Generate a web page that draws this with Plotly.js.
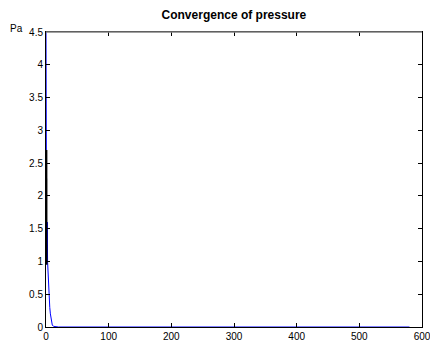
<!DOCTYPE html>
<html><head><meta charset="utf-8">
<script src="https://cdn.plot.ly/plotly-3.0.1.min.js"></script>
<style>body{margin:0;background:#fff}#c{width:430px;height:345px}</style>
</head><body><div id="c"></div>
<script>
const blueX = [0, 1, 2, 2.5, 3, 4, 5, 6, 7, 8, 9, 10, 12, 20, 580];
const blueY = [4.5, 1.0, 1.6, 1.0, 0.85, 0.6, 0.45, 0.3, 0.2, 0.12, 0.06, 0.03, 0.01, 0, 0];
const blackX = [1, 1.2];
const blackY = [2.7, 0.95];
const xTicks = [0, 100, 200, 300, 400, 500, 600];
const yTicks = [0, 0.5, 1, 1.5, 2, 2.5, 3, 3.5, 4, 4.5];

const traces = [
  {x: blueX, y: blueY, mode: 'lines', line: {color: '#0000ff', width: 1}, hoverinfo: 'none'},
  {x: blackX, y: blackY, mode: 'lines', line: {color: '#000000', width: 1.5}, hoverinfo: 'none'}
];
const axFont = {family: 'Liberation Sans, Arial, sans-serif', size: 10, color: '#000'};
const layout = {
  width: 430, height: 345,
  margin: {l: 46, r: 8, t: 32, b: 18},
  paper_bgcolor: '#fff', plot_bgcolor: '#fff',
  showlegend: false,
  title: {text: '<b>Convergence of pressure</b>', font: {family: 'Liberation Sans, Arial, sans-serif', size: 12, color: '#000'}, x: 0.544, xanchor: 'center', y: 0.958, yanchor: 'middle'},
  xaxis: {range: [0, 600], tickvals: xTicks, ticktext: xTicks.map(String), ticks: 'inside', ticklen: 4, tickcolor: '#000',
    ticklabeloverflow: 'allow',
    showline: true, linecolor: '#000', linewidth: 1, mirror: 'ticks', showgrid: false, zeroline: false, tickfont: axFont},
  yaxis: {range: [0, 4.5], tickvals: yTicks, ticktext: yTicks.map(String), ticks: 'inside', ticklen: 4, tickcolor: '#000',
    ticklabeloverflow: 'allow',
    showline: true, linecolor: '#000', linewidth: 1, mirror: 'ticks', showgrid: false, zeroline: false, tickfont: axFont},
  shapes: [{type: 'line', xref: 'paper', yref: 'paper', x0: 0, x1: 1, y0: 1, y1: 1, line: {color: '#808080', width: 1.5}}],
  annotations: [{text: 'Pa', xref: 'paper', yref: 'paper', x: -0.1, y: 1.012, xanchor: 'left', yanchor: 'middle', showarrow: false, font: axFont}]
};
Plotly.newPlot('c', traces, layout, {staticPlot: true});
</script></body></html>
